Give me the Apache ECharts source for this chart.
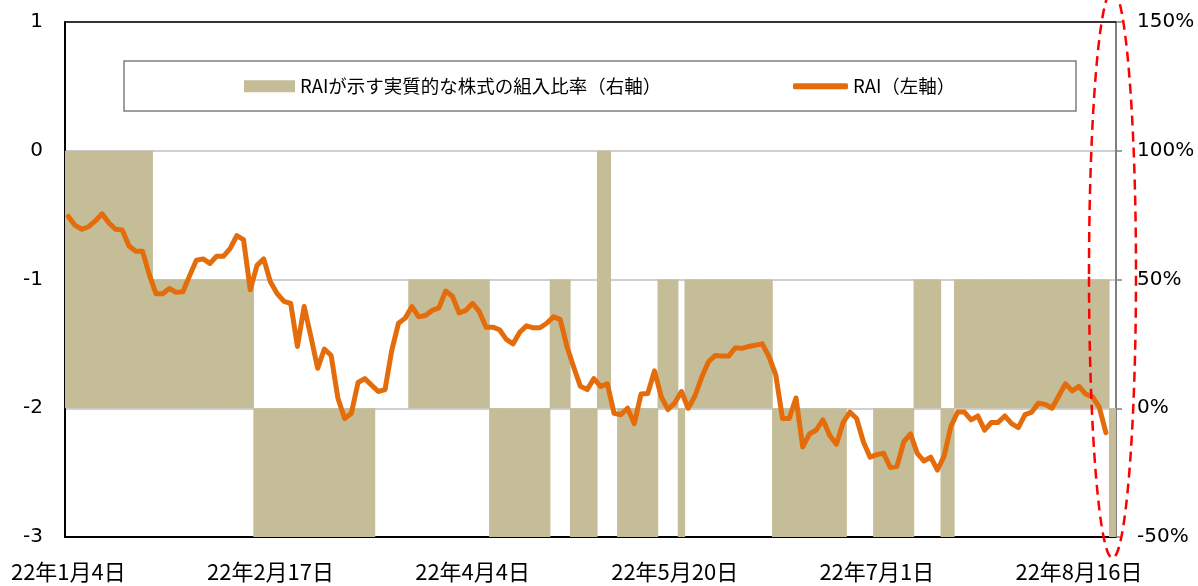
<!DOCTYPE html>
<html>
<head>
<meta charset="utf-8">
<script src="https://cdn.jsdelivr.net/npm/echarts@6/dist/echarts.min.js"></script>
<style>
html,body{margin:0;padding:0;background:#fff;}
#chart{width:1198px;height:586px;}
</style>
</head>
<body>
<div id="chart"></div>
<script>
// Business-day categories (2022)
const categories = [
'22年1月4日','22年1月5日','22年1月6日','22年1月7日','22年1月11日','22年1月12日','22年1月13日','22年1月14日','22年1月17日','22年1月18日','22年1月19日','22年1月20日','22年1月21日','22年1月24日','22年1月25日','22年1月26日','22年1月27日','22年1月28日','22年1月31日',
'22年2月1日','22年2月2日','22年2月3日','22年2月4日','22年2月7日','22年2月8日','22年2月9日','22年2月10日','22年2月14日','22年2月15日','22年2月16日','22年2月17日','22年2月18日','22年2月21日','22年2月22日','22年2月24日','22年2月25日','22年2月28日',
'22年3月1日','22年3月2日','22年3月3日','22年3月4日','22年3月7日','22年3月8日','22年3月9日','22年3月10日','22年3月11日','22年3月14日','22年3月15日','22年3月16日','22年3月17日','22年3月18日','22年3月22日','22年3月23日','22年3月24日','22年3月25日','22年3月28日','22年3月29日','22年3月30日','22年3月31日',
'22年4月1日','22年4月4日','22年4月5日','22年4月6日','22年4月7日','22年4月8日','22年4月11日','22年4月12日','22年4月13日','22年4月14日','22年4月15日','22年4月18日','22年4月19日','22年4月20日','22年4月21日','22年4月22日','22年4月25日','22年4月26日','22年4月27日','22年4月28日',
'22年5月2日','22年5月6日','22年5月9日','22年5月10日','22年5月11日','22年5月12日','22年5月13日','22年5月16日','22年5月17日','22年5月18日','22年5月19日','22年5月20日','22年5月23日','22年5月24日','22年5月25日','22年5月26日','22年5月27日','22年5月30日','22年5月31日',
'22年6月1日','22年6月2日','22年6月3日','22年6月6日','22年6月7日','22年6月8日','22年6月9日','22年6月10日','22年6月13日','22年6月14日','22年6月15日','22年6月16日','22年6月17日','22年6月20日','22年6月21日','22年6月22日','22年6月23日','22年6月24日','22年6月27日','22年6月28日','22年6月29日','22年6月30日',
'22年7月1日','22年7月4日','22年7月5日','22年7月6日','22年7月7日','22年7月8日','22年7月11日','22年7月12日','22年7月13日','22年7月14日','22年7月15日','22年7月19日','22年7月20日','22年7月21日','22年7月22日','22年7月25日','22年7月26日','22年7月27日','22年7月28日','22年7月29日',
'22年8月1日','22年8月2日','22年8月3日','22年8月4日','22年8月5日','22年8月8日','22年8月9日','22年8月10日','22年8月12日','22年8月15日','22年8月16日','22年8月17日','22年8月18日','22年8月19日','22年8月22日','22年8月23日'
];

// 実質的な株式の組入比率 (%), right axis
const equityRatio = [
100,100,100,100,100,100,100,100,100,100,100,100,100,
50,50,50,50,50,50,50,50,50,50,50,50,50,50,50,
-50,-50,-50,-50,-50,-50,-50,-50,-50,-50,-50,-50,-50,-50,-50,-50,-50,-50,
0,0,0,0,0,
50,50,50,50,50,50,50,50,50,50,50,50,
-50,-50,-50,-50,-50,-50,-50,-50,-50,
50,50,50,
-50,-50,-50,-50,
100,100,
0,
-50,-50,-50,-50,-50,-50,
50,50,50,
-50,
50,50,50,50,50,50,50,50,50,50,50,50,50,
-50,-50,-50,-50,-50,-50,-50,-50,-50,-50,-50,
0,0,0,0,
-50,-50,-50,-50,-50,-50,
50,50,50,50,
-50,-50,
50,50,50,50,50,50,50,50,50,50,50,50,50,50,50,50,50,50,50,50,50,50,50,
-50
];

// RAI, left axis
const rai = [
-0.51,-0.58,-0.61,-0.59,-0.545,-0.49,-0.56,-0.61,-0.615,-0.74,
-0.78,-0.78,-0.96,-1.11,-1.11,-1.07,-1.10,-1.095,-0.97,-0.85,
-0.84,-0.875,-0.82,-0.82,-0.76,-0.66,-0.69,-1.08,-0.89,-0.84,
-1.02,-1.11,-1.17,-1.185,-1.52,-1.21,-1.445,-1.69,-1.54,-1.59,
-1.92,-2.08,-2.04,-1.80,-1.77,-1.82,-1.87,-1.855,-1.55,-1.34,
-1.30,-1.21,-1.29,-1.28,-1.24,-1.22,-1.09,-1.13,-1.26,-1.24,
-1.185,-1.25,-1.37,-1.37,-1.39,-1.465,-1.50,-1.41,-1.36,-1.375,
-1.375,-1.34,-1.29,-1.31,-1.52,-1.68,-1.83,-1.855,-1.77,-1.83,
-1.81,-2.04,-2.05,-2.00,-2.12,-1.89,-1.885,-1.71,-1.91,-2.01,
-1.96,-1.87,-2.00,-1.905,-1.76,-1.64,-1.59,-1.595,-1.595,-1.53,
-1.535,-1.52,-1.51,-1.50,-1.60,-1.74,-2.08,-2.08,-1.92,-2.30,
-2.20,-2.17,-2.09,-2.21,-2.28,-2.11,-2.03,-2.08,-2.26,-2.38,
-2.36,-2.35,-2.46,-2.45,-2.26,-2.20,-2.35,-2.41,-2.38,-2.48,
-2.37,-2.14,-2.03,-2.03,-2.09,-2.06,-2.17,-2.11,-2.11,-2.06,
-2.12,-2.15,-2.05,-2.03,-1.96,-1.97,-2.00,-1.905,-1.81,-1.865,
-1.83,-1.89,-1.91,-1.99,-2.19
];

const barName = 'RAIが示す実質的な株式の組入比率（右軸）';
const lineName = 'RAI（左軸）';

const chart = echarts.init(document.getElementById('chart'), null, {renderer: 'canvas'});
const option = {
  animation: false,
  backgroundColor: '#ffffff',
  grid: {left: 65, right: 82, top: 22, bottom: 49, containLabel: false},
  legend: [
    {data: [{name: barName, icon: 'rect'}], left: 244, top: 77, padding: 0, itemWidth: 51, itemHeight: 12,
     textStyle: {fontSize: 18.5, fontFamily: 'Noto Sans CJK JP', color: '#000'}},
    {data: [{name: lineName, icon: 'roundRect'}], left: 793, top: 77, padding: 0, itemWidth: 55, itemHeight: 6,
     itemStyle: {color: '#E46C0A', borderWidth: 0},
     textStyle: {fontSize: 18.5, fontFamily: 'Noto Sans CJK JP', color: '#000'}}
  ],
  xAxis: [
    {type: 'category', data: categories, boundaryGap: true, position: 'bottom',
     axisLine: {show: true, onZero: false, lineStyle: {color: '#000', width: 2}},
     axisTick: {show: false},
     axisLabel: {interval: 29, fontSize: 22, fontFamily: 'Noto Sans CJK JP', color: '#000', margin: 24},
     splitLine: {show: false}},
    {type: 'category', data: categories, boundaryGap: true, position: 'top',
     axisLine: {show: true, onZero: false, lineStyle: {color: '#000', width: 1.5}},
     axisTick: {show: false}, axisLabel: {show: false}, splitLine: {show: false}}
  ],
  yAxis: [
    {type: 'value', min: -3, max: 1, interval: 1, position: 'left',
     axisLine: {show: true, lineStyle: {color: '#000', width: 2}},
     axisTick: {show: false},
     axisLabel: {fontSize: 20, fontFamily: 'DejaVu Sans', color: '#000', margin: 22},
     splitLine: {show: true, lineStyle: {color: '#BFBFBF', width: 1.5}}},
    {type: 'value', min: -50, max: 150, interval: 50, position: 'right',
     axisLine: {show: true, lineStyle: {color: '#808080', width: 2}},
     axisTick: {show: true, inside: false, length: 6, lineStyle: {color: '#808080', width: 1.5}},
     axisLabel: {formatter: '{value}%', fontSize: 20, fontFamily: 'DejaVu Sans', color: '#000', margin: 21},
     splitLine: {show: false}}
  ],
  series: [
    {name: barName, type: 'bar', xAxisIndex: 0, yAxisIndex: 1, data: equityRatio,
     barWidth: 7.4, barGap: '0%',
     itemStyle: {color: '#C4BD97', borderColor: '#C4BD97', borderWidth: 0}, z: 2},
    {name: lineName, type: 'line', xAxisIndex: 0, yAxisIndex: 0, data: rai,
     symbol: 'none', showSymbol: false, smooth: false,
     lineStyle: {color: '#E46C0A', width: 5, cap: 'round', join: 'round'},
     itemStyle: {color: '#E46C0A'}, z: 3}
  ],
  graphic: [
    {type: 'rect', z: 1, shape: {x: 124, y: 61, width: 952, height: 50},
     style: {fill: '#ffffff', stroke: '#7F7F7F', lineWidth: 1.5}},
    {type: 'ellipse', z: 100, shape: {cx: 1112.5, cy: 274, rx: 23.5, ry: 284},
     style: {fill: 'none', stroke: '#FF0000', lineWidth: 2.5, lineDash: [10, 6]}}
  ]
};
chart.setOption(option);
</script>
</body>
</html>
